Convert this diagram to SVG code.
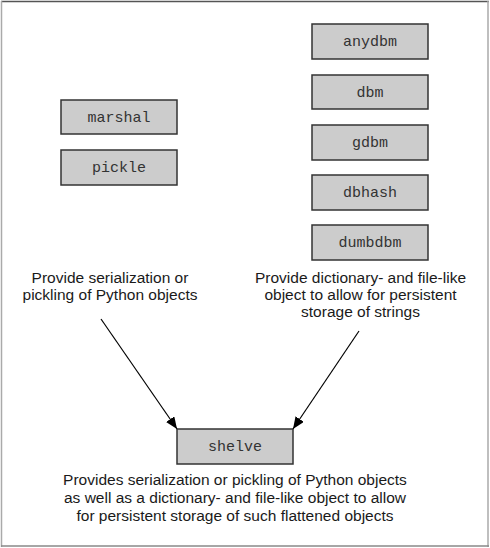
<svg xmlns="http://www.w3.org/2000/svg" width="490" height="548" viewBox="0 0 490 548">
<style>
.box{fill:#cccccc;stroke:#333333;stroke-width:1.5}
.mono{font-family:"Liberation Mono","Courier New",monospace;font-size:15px;fill:#333333;text-anchor:middle}
.lbl{font-family:"Liberation Sans",Arial,Helvetica,sans-serif;font-size:15.5px;fill:#1a1a1a;text-anchor:middle}
.conn{stroke:#000;stroke-width:1.2;fill:none}
</style>
<defs>
<marker id="arr" viewBox="0 0 12 10" refX="12" refY="5" markerWidth="12" markerHeight="10" markerUnits="userSpaceOnUse" orient="auto">
<path d="M0,0 L12,5 L0,10 Z" fill="#000"/>
</marker>
</defs>
<rect width="490" height="548" fill="#fff"/>
<g id="frame">
<line x1="1" y1="1.5" x2="489" y2="1.5" stroke="#555" stroke-width="1.5"/>
<line x1="1.5" y1="1" x2="1.5" y2="547" stroke="#aaa" stroke-width="1.5"/>
<line x1="488" y1="1" x2="488" y2="547" stroke="#aaa" stroke-width="1.5"/>
<line x1="1" y1="546" x2="489" y2="546" stroke="#888" stroke-width="1.5"/>
</g>
<g id="marshal"><rect class="box" x="61" y="100" width="116" height="34"/><text class="mono" x="119" y="122">marshal</text></g>
<g id="pickle"><rect class="box" x="61" y="150" width="116" height="35"/><text class="mono" x="119" y="172">pickle</text></g>
<g id="anydbm"><rect class="box" x="312" y="24" width="116" height="35"/><text class="mono" x="370" y="46">anydbm</text></g>
<g id="dbm"><rect class="box" x="312" y="75" width="116" height="34"/><text class="mono" x="370" y="97">dbm</text></g>
<g id="gdbm"><rect class="box" x="312" y="125" width="116" height="35"/><text class="mono" x="370" y="147">gdbm</text></g>
<g id="dbhash"><rect class="box" x="312" y="175" width="116" height="35"/><text class="mono" x="370" y="197">dbhash</text></g>
<g id="dumbdbm"><rect class="box" x="312" y="225" width="116" height="35"/><text class="mono" x="370" y="247">dumbdbm</text></g>
<g id="shelve"><rect class="box" x="177" y="429" width="116" height="35"/><text class="mono" x="235" y="451">shelve</text></g>
<g id="label-serialization">
<text class="lbl" x="110" y="283">Provide serialization or</text>
<text class="lbl" x="110" y="300">pickling of Python objects</text>
</g>
<g id="label-dictionary">
<text class="lbl" x="360.5" y="283">Provide dictionary- and file-like</text>
<text class="lbl" x="360.5" y="300">object to allow for persistent</text>
<text class="lbl" x="360.5" y="317">storage of strings</text>
</g>
<g id="label-shelve">
<text class="lbl" x="235" y="485">Provides serialization or pickling of Python objects</text>
<text class="lbl" x="235" y="503">as well as a dictionary- and file-like object to allow</text>
<text class="lbl" x="235" y="521">for persistent storage of such flattened objects</text>
</g>
<g id="connectors">
<line class="conn" x1="101" y1="319" x2="177" y2="429" marker-end="url(#arr)"/>
<line class="conn" x1="359" y1="331" x2="293" y2="429" marker-end="url(#arr)"/>
</g>
</svg>
